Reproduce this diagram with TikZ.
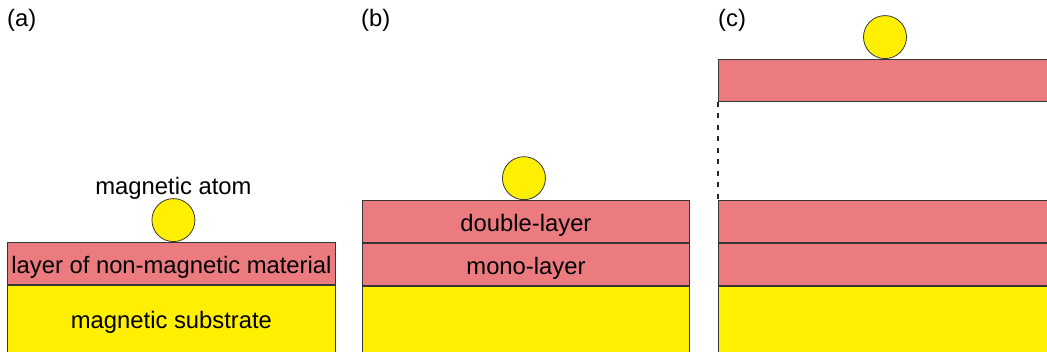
\documentclass[tikz,border=0pt]{standalone}
\usepackage{fontspec}
\setmainfont{Liberation Sans}
\usepackage{tikz}
\usetikzlibrary{positioning}
\definecolor{LayerPink}{HTML}{EC7B80}
\definecolor{MagYellow}{HTML}{FFEF00}
\definecolor{EdgeInk}{HTML}{363636}

\begin{document}
\begin{tikzpicture}[
    x=1pt, y=1pt,
    font=\fontsize{23.8pt}{28pt}\selectfont,
    layer/.style={
      draw=EdgeInk,
      fill=LayerPink,
      line width=0.9pt,
      inner sep=0pt,
      minimum height=42pt,
      text height=20pt,
      text depth=0pt,
    },
    substrate/.style={
      draw=EdgeInk,
      fill=MagYellow,
      line width=0.9pt,
      inner sep=0pt,
      minimum height=74pt,
    },
    atom/.style={
      circle,
      draw=EdgeInk,
      fill=MagYellow,
      line width=0.8pt,
      inner sep=0pt,
      minimum size=43pt,
    },
    tag/.style={
      anchor=west,
      inner sep=0pt,
    },
  ]
    \useasboundingbox (0,0) rectangle (1047,352);
    \clip (0,0) rectangle (1047,352);

    % ---- (a): one layer on the substrate ----
    \node[tag] (ta) at (7,332) {(a)};
    \node[layer, minimum width=328pt, anchor=north west] (la) at (7,110)
      {layer of non-magnetic material};
    \node[substrate, minimum width=328pt, below=0pt of la] (sa)
      {magnetic substrate};
    \node[atom, above=0pt of la, xshift=2pt] (aa) {};
    \node[inner sep=0pt, above=-1pt of aa] (na) {magnetic atom};

    % ---- (b): mono- and double-layer ----
    \node[tag] (tb) at (361,332) {(b)};
    \node[layer, minimum width=327pt, anchor=north west] (mb) at (362,109)
      {mono-layer};
    \node[layer, minimum width=327pt, above=0pt of mb] (db) {double-layer};
    \node[substrate, minimum width=327pt, below=0pt of mb] (sb) {};
    \node[atom, above=0pt of db, xshift=-2pt] (ab) {};

    % ---- (c): layer lifted off ----
    \node[tag] (tc) at (718,332) {(c)};
    \node[layer, minimum width=360pt, anchor=north west] (mc) at (718,109) {};
    \node[layer, minimum width=360pt, above=0pt of mc] (dc) {};
    \node[substrate, minimum width=360pt, below=0pt of mc] (sc) {};
    \node[layer, minimum width=360pt, anchor=north west] (uc) at (718,293) {};
    \node[atom, above=0pt of uc.north west, xshift=167pt] (ac) {};
    \draw[black!85, line width=1.3pt, dash pattern=on 5pt off 6.5pt]
      (uc.south west) -- (dc.north west);
\end{tikzpicture}
\end{document}
